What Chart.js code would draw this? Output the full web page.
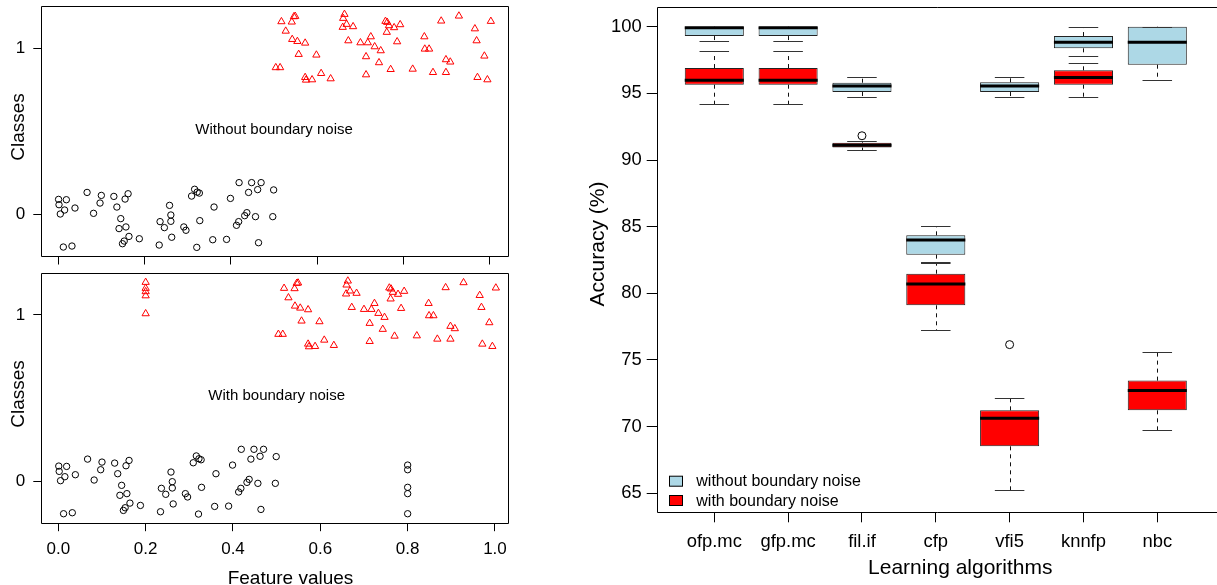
<!DOCTYPE html>
<html><head><meta charset="utf-8">
<script src="https://cdn.jsdelivr.net/npm/chart.js@4.4.1/dist/chart.umd.min.js"></script>
<style>
html,body{margin:0;padding:0;background:#fff;overflow:hidden;width:1217px;height:585px;}
.wrap{position:absolute;}
</style></head><body>
<div class="wrap" style="left:0;top:0;width:560px;height:270px"><canvas id="c1"></canvas></div>
<div class="wrap" style="left:0;top:265px;width:560px;height:320px"><canvas id="c2"></canvas></div>
<div class="wrap" style="left:560px;top:0;width:657px;height:585px"><canvas id="c3"></canvas></div>
<script>
// ---------- Left panels: feature values vs classes ----------
const circleX = [0.001,0.002,0.005,0.012,0.015,0.019,0.032,0.039,0.067,0.082,0.097,0.100,0.129,0.136,0.141,0.145,0.149,0.153,0.155,0.157,0.162,0.164,0.188,0.234,0.236,0.246,0.258,0.261,0.261,0.263,0.291,0.296,0.309,0.316,0.321,0.322,0.327,0.328,0.358,0.361,0.390,0.399,0.413,0.418,0.419,0.432,0.437,0.441,0.448,0.457,0.462,0.464,0.470,0.497,0.499];
const circleY = [0.090,0.058,0.002,-0.197,0.026,0.088,-0.191,0.038,0.132,0.006,0.068,0.114,0.108,0.044,-0.086,-0.026,-0.177,-0.161,0.092,-0.076,0.124,-0.133,-0.147,-0.185,-0.044,-0.080,0.054,-0.004,-0.042,-0.138,-0.076,-0.096,0.110,0.151,-0.199,0.134,0.128,-0.038,-0.153,0.044,-0.151,0.096,-0.066,-0.044,0.191,-0.008,0.010,0.132,0.191,-0.014,0.149,-0.171,0.191,-0.014,0.147];
const triangleX = [0.504,0.514,0.517,0.527,0.541,0.542,0.546,0.549,0.554,0.557,0.572,0.572,0.574,0.588,0.598,0.609,0.631,0.659,0.660,0.663,0.668,0.672,0.683,0.700,0.713,0.713,0.717,0.724,0.733,0.743,0.747,0.758,0.761,0.762,0.766,0.770,0.778,0.785,0.792,0.821,0.848,0.849,0.859,0.868,0.887,0.898,0.898,0.908,0.928,0.965,0.969,0.971,0.987,0.994,1.002];
const triangleY = [0.884,0.884,1.161,1.104,1.159,1.054,1.191,1.193,1.042,0.964,1.032,0.825,0.809,0.811,0.960,0.849,0.817,1.127,1.181,1.205,1.145,1.046,1.131,1.034,0.950,0.841,1.034,1.070,1.010,0.914,0.986,1.163,1.097,1.157,1.137,0.873,1.125,1.040,1.143,0.875,1.070,0.996,0.996,0.855,1.165,0.932,0.855,0.918,1.195,1.118,1.046,0.825,0.954,0.811,1.163];
const noiseTriangleX = [0.2,0.2,0.2,0.2,0.2];
const noiseTriangleY = [1.197,1.161,1.141,1.116,1.008];
const noiseCircleX = [0.8,0.8,0.8,0.8,0.8];
const noiseCircleY = [0.096,0.068,-0.038,-0.076,-0.197];
const featureTicks = [0,0.2,0.4,0.6,0.8,1.0];
const classTicks = [0,1];

// ---------- Right panel: accuracy boxplots ----------
const algorithms = ['ofp.mc','gfp.mc','fil.if','cfp','vfi5','knnfp','nbc'];
const cleanMin    = [98.90,98.90,94.73,82.35,94.73,97.83,96.03];
const cleanQ1     = [99.30,99.30,95.10,82.90,95.10,98.38,97.15];
const cleanMedian = [99.93,99.93,95.55,84.00,95.55,98.83,98.83];
const cleanQ3     = [100.0,100.0,95.80,84.35,95.83,99.30,100.0];
const cleanMax    = [100.0,100.0,96.20,85.07,96.20,100.0,100.0];
const noisyMin    = [94.18,94.18,90.73,77.25,65.25,94.73,69.75];
const noisyQ1     = [95.65,95.65,90.93,79.10,68.52,95.65,71.22];
const noisyMedian = [95.98,95.98,91.10,80.70,70.62,96.20,72.70];
const noisyQ3     = [96.90,96.90,91.30,81.47,71.22,96.73,73.45];
const noisyMax    = [98.18,98.18,91.45,82.30,72.17,97.30,75.63];
const outlierAlgo  = [3,5];
const outlierValue = [91.82,76.15];
const accuracyTicks = [65,70,75,80,85,90,95,100];

const FONT = "'Liberation Sans', Arial, Helvetica, sans-serif";
Chart.defaults.font.family = FONT;
Chart.defaults.color = '#000';

function pts(xs, ys){ return xs.map((x,i)=>({x:x, y:ys[i]})); }
function noPad(s){ s.paddingTop=0; s.paddingBottom=0; s.paddingLeft=0; s.paddingRight=0; }

function framePlugin(extendRight){
  return {id:'frame', afterDraw(chart){
    const {ctx, chartArea:a} = chart;
    const L = Math.round(a.left)+0.5, T = Math.round(a.top)+0.5, B = Math.round(a.bottom)+0.5;
    const R = extendRight ? a.right + 10 : Math.round(a.right)+0.5;
    ctx.save(); ctx.strokeStyle='#000'; ctx.lineWidth=1;
    ctx.beginPath(); ctx.moveTo(R,T); ctx.lineTo(L,T); ctx.lineTo(L,B); ctx.lineTo(R,B);
    if(!extendRight) ctx.lineTo(R,T);
    ctx.stroke(); ctx.restore();
  }};
}

function panelTextPlugin(label, classesY, xTitle){
  return {id:'ptext', afterDraw(chart){
    const ctx = chart.ctx, sx = chart.scales.x, sy = chart.scales.y;
    ctx.save(); ctx.fillStyle='#000';
    ctx.font = '15px '+FONT; ctx.textAlign='center'; ctx.textBaseline='middle';
    ctx.fillText(label, sx.getPixelForValue(0.5), sy.getPixelForValue(0.51));
    ctx.font = '19px '+FONT; ctx.textBaseline='alphabetic';
    if (xTitle) ctx.fillText(xTitle.text, xTitle.x, xTitle.y);
    ctx.translate(23.5, classesY); ctx.rotate(-Math.PI/2);
    ctx.fillText('Classes', 0, 0);
    ctx.restore();
  }};
}

function scatterPanel(id, cfg){
  const datasets = [
    {data: pts(circleX, circleY), pointStyle:'circle', pointRadius:3.2, borderColor:'#000', backgroundColor:'rgba(0,0,0,0)', borderWidth:1},
    {data: pts(triangleX, triangleY), pointStyle:'triangle', pointRadius:4.2, borderColor:'#ff0000', backgroundColor:'rgba(0,0,0,0)', borderWidth:1}
  ];
  if (cfg.noise){
    datasets.push({data: pts(noiseCircleX, noiseCircleY), pointStyle:'circle', pointRadius:3.2, borderColor:'#000', backgroundColor:'rgba(0,0,0,0)', borderWidth:1});
    datasets.push({data: pts(noiseTriangleX, noiseTriangleY), pointStyle:'triangle', pointRadius:4.2, borderColor:'#ff0000', backgroundColor:'rgba(0,0,0,0)', borderWidth:1});
  }
  return new Chart(document.getElementById(id), {
    type:'scatter',
    data:{datasets},
    options:{
      animation:false, responsive:true, maintainAspectRatio:false,
      layout:{padding:{left:0, right:51.7, top:cfg.padTop, bottom:0}},
      plugins:{legend:{display:false}, tooltip:{enabled:false}},
      elements:{point:{hoverRadius:3}},
      scales:{
        x:{type:'linear', min:-0.039, max:cfg.xMax,
           afterBuildTicks(s){ s.ticks = featureTicks.map(v=>({value:v})); },
           afterFit(s){ s.height = cfg.xHeight; noPad(s); },
           border:{display:false},
           grid:{drawOnChartArea:false, drawTicks:true, tickLength:8.5, tickColor:'#000', tickWidth:1},
           ticks:{display:cfg.xLabels, font:{size:17}, color:'#000', padding:8, maxRotation:0,
                  callback:(v)=>Number(v).toFixed(1)}},
        y:{type:'linear', min:-0.251, max:cfg.yMax,
           afterBuildTicks(s){ s.ticks = classTicks.map(v=>({value:v})); },
           afterFit(s){ s.width = 41.3; noPad(s); },
           border:{display:false},
           grid:{drawOnChartArea:false, drawTicks:true, tickLength:8, tickColor:'#000', tickWidth:1},
           ticks:{font:{size:17}, color:'#000', padding:8, callback:(v)=>String(v)}}
      }
    },
    plugins:[framePlugin(false), panelTextPlugin(cfg.label, cfg.classesY, cfg.xTitle)]
  });
}

scatterPanel('c1', {padTop:6, xMax:1.0424, yMax:1.255, xHeight:14, xLabels:false, noise:false,
  label:'Without boundary noise', classesY:127, xTitle:null});
scatterPanel('c2', {padTop:8.3, xMax:1.0305, yMax:1.251, xHeight:62.3, xLabels:true, noise:true,
  label:'With boundary noise', classesY:129, xTitle:{text:'Feature values', x:290.5, y:319.3}});

// ---------- Boxplot whiskers and medians ----------
const boxPlugin = {id:'boxes', afterDatasetsDraw(chart){
  const ctx = chart.ctx, sx = chart.scales.x, sy = chart.scales.y;
  const groups = [
    [cleanMin, cleanQ1, cleanMedian, cleanQ3, cleanMax],
    [noisyMin, noisyQ1, noisyMedian, noisyQ3, noisyMax]
  ];
  ctx.save();
  groups.forEach(g=>{
    const [mn,q1,md,q3,mx] = g;
    algorithms.forEach((a,i)=>{
      const xc = Math.round(sx.getPixelForValue(i+1))+0.5;
      const cl = sx.getPixelForValue(i+1-0.2), cr = sx.getPixelForValue(i+1+0.2);
      const bl = sx.getPixelForValue(i+1-0.4), br = sx.getPixelForValue(i+1+0.4);
      const yTop = Math.round(sy.getPixelForValue(mx[i]))+0.5;
      const yBot = Math.round(sy.getPixelForValue(mn[i]))+0.5;
      // dashed whiskers
      ctx.strokeStyle='#111'; ctx.lineWidth=1; ctx.setLineDash([4,4]);
      ctx.beginPath();
      ctx.moveTo(xc, sy.getPixelForValue(q3[i])); ctx.lineTo(xc, yTop);
      ctx.moveTo(xc, sy.getPixelForValue(q1[i])); ctx.lineTo(xc, yBot);
      ctx.stroke(); ctx.setLineDash([]);
      // staples
      ctx.strokeStyle='#333';
      ctx.beginPath();
      ctx.moveTo(cl, yTop); ctx.lineTo(cr, yTop);
      ctx.moveTo(cl, yBot); ctx.lineTo(cr, yBot);
      ctx.stroke();
      // median
      ctx.strokeStyle='#000'; ctx.lineWidth=3;
      const ym = sy.getPixelForValue(md[i]);
      ctx.beginPath(); ctx.moveTo(bl, ym); ctx.lineTo(br, ym); ctx.stroke();
    });
  });
  ctx.restore();
}};

const rightTextPlugin = {id:'rtext', afterDraw(chart){
  const ctx = chart.ctx;
  ctx.save(); ctx.fillStyle='#000';
  const items = [['without boundary noise','#ADD8E6',475.7],['with boundary noise','#ff0000',495]];
  ctx.font='16px '+FONT; ctx.textAlign='left'; ctx.textBaseline='alphabetic';
  items.forEach(([t,c,y])=>{
    ctx.fillStyle=c; ctx.fillRect(109.5, y+0.5, 13, 10);
    ctx.strokeStyle='#000'; ctx.lineWidth=1; ctx.strokeRect(109.5, y+0.5, 13, 10);
    ctx.fillStyle='#000'; ctx.fillText(t, 136.3, y+10.5);
  });
  ctx.font='21px '+FONT; ctx.textAlign='center';
  ctx.fillText('Learning algorithms', 400.3, 574);
  ctx.translate(43.5, 244); ctx.rotate(-Math.PI/2);
  ctx.fillText('Accuracy (%)', 0, 0);
  ctx.restore();
}};

new Chart(document.getElementById('c3'), {
  type:'bar',
  data:{datasets:[
    {label:'without boundary noise', data: algorithms.map((a,i)=>({x:i+1, y:[cleanQ1[i], cleanQ3[i]]})),
     backgroundColor:'#ADD8E6', borderColor:'#222', borderWidth:1, borderSkipped:false,
     grouped:false, barPercentage:0.8, categoryPercentage:1, order:2},
    {label:'with boundary noise', data: algorithms.map((a,i)=>({x:i+1, y:[noisyQ1[i], noisyQ3[i]]})),
     backgroundColor:'#ff0000', borderColor:'#222', borderWidth:1, borderSkipped:false,
     grouped:false, barPercentage:0.8, categoryPercentage:1, order:1},
    {type:'scatter', label:'outliers', data: outlierAlgo.map((a,i)=>({x:a, y:outlierValue[i]})),
     pointStyle:'circle', pointRadius:4, borderColor:'#000', backgroundColor:'#fff', borderWidth:1, order:0}
  ]},
  options:{
    animation:false, responsive:true, maintainAspectRatio:false,
    layout:{padding:{left:0, right:0, top:7, bottom:0}},
    plugins:{legend:{display:false}, tooltip:{enabled:false}},
    scales:{
      x:{type:'linear', min:0.22, max:7.741, offset:false,
         afterBuildTicks(s){ s.ticks = algorithms.map((a,i)=>({value:i+1})); },
         afterFit(s){ s.height = 72.7; noPad(s); },
         border:{display:false},
         grid:{offset:false, drawOnChartArea:false, drawTicks:true, tickLength:10, tickColor:'#000', tickWidth:1},
         ticks:{font:{size:18.4}, color:'#000', padding:9, maxRotation:0, autoSkip:false,
                callback:(v,i)=>algorithms[i]}},
      y:{type:'linear', min:63.57, max:101.48,
         afterBuildTicks(s){ s.ticks = accuracyTicks.map(v=>({value:v})); },
         afterFit(s){ s.width = 96.7; noPad(s); },
         border:{display:false},
         grid:{drawOnChartArea:false, drawTicks:true, tickLength:10, tickColor:'#000', tickWidth:1},
         ticks:{font:{size:18.4}, color:'#000', padding:5, callback:(v)=>String(v)}}
    }
  },
  plugins:[boxPlugin, framePlugin(true), rightTextPlugin]
});
</script>
</body></html>
